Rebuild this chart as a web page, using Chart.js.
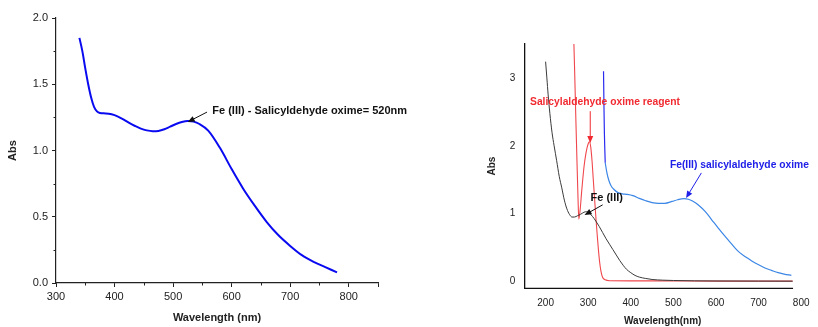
<!DOCTYPE html>
<html>
<head>
<meta charset="utf-8">
<script src="https://cdn.jsdelivr.net/npm/chart.js@4.4.1/dist/chart.umd.min.js"></script>
<style>
  html, body { margin: 0; padding: 0; background: #fff; overflow: hidden; }
  body { width: 818px; height: 327px; position: relative; }
  #c1 { position: absolute; left: 0; top: 0; }
  #c2 { position: absolute; left: 480px; top: 0; }
</style>
</head>
<body>
<canvas id="c1" width="410" height="327"></canvas>
<canvas id="c2" width="338" height="333"></canvas>
<script>
// ---------- LEFT PANEL DATA ----------
const leftWavelength = [340,345,350,355,360,365,370,375,385,395,405,415,425,435,445,455,465,475,485,495,505,515,525,535,545,560,580,600,620,640,660,680,700,720,740,760,780];
const leftAbs        = [1.85,1.75,1.62,1.50,1.40,1.33,1.295,1.283,1.28,1.273,1.258,1.235,1.208,1.185,1.165,1.152,1.146,1.148,1.16,1.18,1.2,1.215,1.222,1.218,1.2,1.15,1.02,0.86,0.71,0.58,0.46,0.36,0.28,0.21,0.16,0.12,0.08];
const leftXTicks = [300,400,500,600,700,800,850];
const leftXMinor = [350,450,550,650,750];
const leftYTicks = [0,0.5,1.0,1.5,2.0];
const leftYMinor = [0.25,0.75,1.25,1.75];

// ---------- RIGHT PANEL DATA ----------
const feWavelength = [200,203,206,210,215,220,226,232,238,244,250,256,262,268,275,282,290,296,302,310,318,326,334,342,350,358,366,374,382,390,400,410,420,435,450,475,500,550,600,700,780];
const feAbs        = [3.24,3.0,2.75,2.48,2.2,2.0,1.78,1.55,1.38,1.2,1.07,0.99,0.95,0.95,0.97,0.99,1.02,1.03,1.01,0.96,0.89,0.81,0.72,0.63,0.55,0.47,0.39,0.31,0.24,0.18,0.13,0.09,0.065,0.045,0.03,0.02,0.015,0.01,0.008,0.006,0.005];

const reagentWavelength = [266,268,271,274,276,278,281,285,290,295,300,303,306,309,312,315,318,321,324,327,330,334,340,350,400,500,600,700,780];
const reagentAbs        = [3.6,3.15,2.4,1.7,1.25,0.92,1.05,1.35,1.68,1.9,2.03,2.06,1.98,1.78,1.5,1.22,0.95,0.7,0.47,0.28,0.15,0.06,0.025,0.012,0.01,0.008,0.006,0.005,0.005];

const complexUvWavelength = [336,337,338,339,340];
const complexUvAbs        = [3.1,2.6,2.2,1.95,1.75];

const complexWavelength = [340,344,348,353,360,370,380,392,405,420,435,450,465,480,497,510,525,535,545,560,575,590,605,622,637,653,670,685,699,715,730,746,760,777];
const complexAbs        = [1.75,1.6,1.5,1.42,1.36,1.31,1.292,1.283,1.265,1.225,1.19,1.162,1.15,1.152,1.18,1.205,1.22,1.212,1.185,1.12,1.03,0.91,0.79,0.66,0.55,0.44,0.36,0.30,0.25,0.20,0.165,0.13,0.11,0.09];

const rightXTicks = [200,300,400,500,600,700,800];
const rightYTicks = [0,1,2,3];

// ---------- HELPERS ----------
const FONT = "'Liberation Sans', Arial, sans-serif";
const pts = (xs, ys) => xs.map((x, i) => ({ x: x, y: ys[i] }));

function annotationPlugin(items) {
  return {
    id: 'anno',
    afterDatasetsDraw(chart) {
      const { ctx, scales: { x, y } } = chart;
      items.forEach(it => {
        ctx.save();
        ctx.fillStyle = it.color;
        ctx.strokeStyle = it.color;
        ctx.font = it.font;
        ctx.textAlign = 'left';
        ctx.textBaseline = 'middle';
        ctx.fillText(it.text, x.getPixelForValue(it.tx), y.getPixelForValue(it.ty));
        const x0 = x.getPixelForValue(it.ax0), y0 = y.getPixelForValue(it.ay0);
        const x1 = x.getPixelForValue(it.ax1), y1 = y.getPixelForValue(it.ay1);
        const ang = Math.atan2(y1 - y0, x1 - x0);
        const hl = 7, hw = 3;
        ctx.lineWidth = 1;
        ctx.beginPath();
        ctx.moveTo(x0, y0);
        ctx.lineTo(x1 - Math.cos(ang) * hl * 0.8, y1 - Math.sin(ang) * hl * 0.8);
        ctx.stroke();
        ctx.beginPath();
        ctx.moveTo(x1, y1);
        ctx.lineTo(x1 - Math.cos(ang) * hl - Math.sin(ang) * hw, y1 - Math.sin(ang) * hl + Math.cos(ang) * hw);
        ctx.lineTo(x1 - Math.cos(ang) * hl + Math.sin(ang) * hw, y1 - Math.sin(ang) * hl - Math.cos(ang) * hw);
        ctx.closePath();
        ctx.fill();
        ctx.restore();
      });
    }
  };
}

function minorTickPlugin(xMinor, yMinor, len, color) {
  return {
    id: 'minorTicks',
    afterDraw(chart) {
      const { ctx, scales: { x, y }, chartArea } = chart;
      ctx.save();
      ctx.strokeStyle = color;
      ctx.lineWidth = 1;
      ctx.beginPath();
      xMinor.forEach(v => {
        const px = Math.round(x.getPixelForValue(v)) + 0.5;
        ctx.moveTo(px, chartArea.bottom);
        ctx.lineTo(px, chartArea.bottom + len);
      });
      yMinor.forEach(v => {
        const py = Math.round(y.getPixelForValue(v)) + 0.5;
        ctx.moveTo(chartArea.left, py);
        ctx.lineTo(chartArea.left - len, py);
      });
      ctx.stroke();
      ctx.restore();
    }
  };
}

function bottomLinePlugin(fromVal, toVal, color) {
  return {
    id: 'bottomLine',
    afterDraw(chart) {
      const { ctx, scales: { x }, chartArea } = chart;
      ctx.save();
      ctx.strokeStyle = color;
      ctx.lineWidth = 1.2;
      ctx.beginPath();
      ctx.moveTo(x.getPixelForValue(fromVal), chartArea.bottom);
      ctx.lineTo(x.getPixelForValue(toVal), chartArea.bottom);
      ctx.stroke();
      ctx.restore();
    }
  };
}

// ---------- LEFT CHART ----------
new Chart(document.getElementById('c1'), {
  type: 'scatter',
  data: {
    datasets: [{
      data: pts(leftWavelength, leftAbs),
      showLine: true,
      borderColor: '#0a0af0',
      borderWidth: 2,
      pointRadius: 0,
      cubicInterpolationMode: 'monotone'
    }]
  },
  options: {
    responsive: false,
    animation: false,
    events: [],
    layout: { padding: { left: 0, top: 18, right: 32, bottom: 0 } },
    plugins: { legend: { display: false }, tooltip: { enabled: false } },
    scales: {
      x: {
        type: 'linear', min: 300, max: 850,
        afterBuildTicks: s => { s.ticks = leftXTicks.map(v => ({ value: v })); },
        afterFit: s => { s.height = 44; },
        ticks: {
          autoSkip: false, maxRotation: 0, padding: 3,
          font: { family: FONT, size: 11 }, color: '#222',
          callback: v => (v <= 800 ? String(v) : '')
        },
        grid: { drawOnChartArea: false, drawTicks: true, tickLength: 4, color: '#222' },
        border: { color: '#222', width: 1.2 },
        title: { display: true, text: 'Wavelength (nm)', color: '#222',
                 font: { family: FONT, size: 11, weight: 'bold' }, padding: { top: 0, bottom: 2.4 } }
      },
      y: {
        type: 'linear', min: 0, max: 2,
        afterBuildTicks: s => { s.ticks = leftYTicks.map(v => ({ value: v })); },
        afterFit: s => { s.width = 56; },
        ticks: {
          autoSkip: false, padding: 4,
          font: { family: FONT, size: 11 }, color: '#222',
          callback: v => Number(v).toFixed(1)
        },
        grid: { drawOnChartArea: false, drawTicks: true, tickLength: 4, color: '#222' },
        border: { color: '#222', width: 1.2 },
        title: { display: true, text: 'Abs', color: '#222',
                 font: { family: FONT, size: 11, weight: 'bold' }, padding: { top: 6.4, bottom: 0 } }
      }
    }
  },
  plugins: [
    minorTickPlugin(leftXMinor, leftYMinor, 2.5, '#222'),
    annotationPlugin([
      { text: 'Fe (III) - Salicyldehyde oxime= 520nm', color: '#111', font: "bold 11px " + FONT,
        tx: 567, ty: 1.295, ax0: 558, ay0: 1.29, ax1: 525, ay1: 1.215 }
    ])
  ]
});

// ---------- RIGHT CHART ----------
new Chart(document.getElementById('c2'), {
  type: 'scatter',
  data: {
    datasets: [
      { data: pts(feWavelength, feAbs), showLine: true, borderColor: '#3a3a3a', borderWidth: 1,
        pointRadius: 0, cubicInterpolationMode: 'monotone' },
      { data: pts(reagentWavelength, reagentAbs), showLine: true, borderColor: '#f0474c', borderWidth: 1.1,
        pointRadius: 0, cubicInterpolationMode: 'monotone' },
      { data: pts(complexUvWavelength, complexUvAbs), showLine: true, borderColor: '#2b2bf0', borderWidth: 1.2,
        pointRadius: 0, cubicInterpolationMode: 'monotone' },
      { data: pts(complexWavelength, complexAbs), showLine: true, borderColor: '#3b86e6', borderWidth: 1.2,
        pointRadius: 0, cubicInterpolationMode: 'monotone' }
    ]
  },
  options: {
    responsive: false,
    animation: false,
    events: [],
    layout: { padding: { left: 0, top: 44, right: 14.7, bottom: 0 } },
    plugins: { legend: { display: false }, tooltip: { enabled: false } },
    scales: {
      x: {
        type: 'linear', min: 150, max: 800,
        afterBuildTicks: s => { s.ticks = rightXTicks.map(v => ({ value: v })); },
        afterFit: s => { s.height = 44.7; },
        ticks: {
          autoSkip: false, maxRotation: 0, padding: 8.5,
          font: { family: FONT, size: 10 }, color: '#222'
        },
        grid: { display: false, drawTicks: false },
        border: { display: false },
        title: { display: true, text: 'Wavelength(nm)', color: '#222',
                 font: { family: FONT, size: 10, weight: 'bold' }, padding: { top: 0, bottom: 5.7 } }
      },
      y: {
        type: 'linear', min: -0.1, max: 3.5,
        afterBuildTicks: s => { s.ticks = rightYTicks.map(v => ({ value: v })); },
        afterFit: s => { s.width = 44.3; },
        ticks: {
          autoSkip: false, padding: 9,
          font: { family: FONT, size: 10 }, color: '#222'
        },
        grid: { display: false, drawTicks: false },
        border: { display: true, color: '#111', width: 1.3 },
        title: { display: true, text: 'Abs', color: '#222',
                 font: { family: FONT, size: 10, weight: 'bold' }, padding: { top: 6.7, bottom: 0 } }
      }
    }
  },
  plugins: [
    bottomLinePlugin(150, 781, '#111'),
    annotationPlugin([
      { text: 'Salicylaldehyde oxime reagent', color: '#f02a30', font: "bold 10.3px " + FONT,
        tx: 163.4, ty: 2.65, ax0: 304.8, ay0: 2.51, ax1: 304.8, ay1: 2.04 },
      { text: 'Fe(III) salicylaldehyde oxime', color: '#2020e8', font: "bold 10.3px " + FONT,
        tx: 491.9, ty: 1.72, ax0: 565.7, ay0: 1.60, ax1: 529.8, ay1: 1.23 },
      { text: 'Fe (III)', color: '#111', font: "bold 11px " + FONT,
        tx: 305.5, ty: 1.23, ax0: 334, ay0: 1.13, ax1: 291.5, ay1: 0.98 }
    ])
  ]
});
</script>
</body>
</html>
